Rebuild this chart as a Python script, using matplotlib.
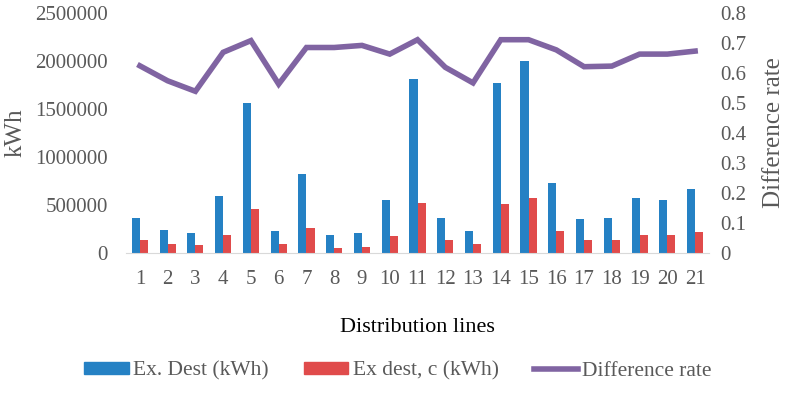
import matplotlib
matplotlib.use("Agg")
import matplotlib.pyplot as plt
import numpy as np
from matplotlib.lines import Line2D
from matplotlib.patches import Patch

plt.rcParams['font.family'] = ['Liberation Serif', 'DejaVu Serif']

lines = [str(i) for i in range(1, 22)]
ex_dest = [365000, 240000, 204000, 590000, 1558000, 225000, 823000, 190000, 212000, 555000,
           1816000, 368000, 229000, 1771000, 2003000, 729000, 354000, 365000, 576000, 552000, 670000]
ex_dest_c = [135000, 97000, 87000, 190000, 462000, 97000, 260000, 52000, 63000, 180000,
             520000, 135000, 97000, 506000, 576000, 225000, 131000, 131000, 190000, 190000, 215000]
diff_rate = [0.624, 0.574, 0.539, 0.669, 0.708, 0.563, 0.685, 0.685, 0.692, 0.663,
             0.711, 0.619, 0.567, 0.711, 0.711, 0.677, 0.621, 0.623, 0.663, 0.663, 0.673]

c_blue = '#2581C4'
c_red = '#E04B4B'
c_purple = '#8064A2'
c_gray = '#595959'

fig = plt.figure(figsize=(7.87, 3.94), dpi=100)
ax = fig.add_axes([126/787, 141/394, (709-126)/787, 240/394])
x = np.arange(1, 22)
w = 0.29
ax.bar(x - w/2, ex_dest, width=w, color=c_blue, zorder=2)
ax.bar(x + w/2, ex_dest_c, width=w, color=c_red, zorder=2)
ax.set_xlim(0.5, 21.5)
ax.set_ylim(0, 2500000)
ax.set_yticks(np.arange(0, 2500001, 500000))
ax.set_yticklabels([str(v) for v in range(0, 2500001, 500000)])
ax.set_xticks(x)
ax.set_xticklabels(lines)
for s in ['top', 'right', 'left']:
    ax.spines[s].set_visible(False)
ax.spines['bottom'].set_color('#D9D9D9')
ax.tick_params(axis='y', length=0, labelsize=15, colors=c_gray, pad=13)
ax.tick_params(axis='x', length=0, labelsize=15, colors=c_gray, pad=12)
ax.set_ylabel('kWh', fontsize=18, color=c_gray, labelpad=6)
ax.set_xlabel('Distribution lines', fontsize=16, color='black', labelpad=21)

ax2 = ax.twinx()
ax2.plot(x, diff_rate, color=c_purple, lw=4, solid_joinstyle='miter', zorder=3)
ax2.set_ylim(0, 0.8)
ax2.set_yticks(np.arange(0, 0.81, 0.1))
ax2.set_yticklabels(['0'] + [f'{v:.1f}' for v in np.arange(0.1, 0.81, 0.1)])
for s in ['top', 'right', 'left', 'bottom']:
    ax2.spines[s].set_visible(False)
ax2.tick_params(length=0, labelsize=15, colors=c_gray, pad=8)
ax2.set_ylabel('Difference rate', fontsize=18, color=c_gray, labelpad=12)

handles = [Patch(color=c_blue), Patch(color=c_red), Line2D([0], [0], color=c_purple, lw=4)]
labels = ['Ex. Dest (kWh)', 'Ex dest, c (kWh)', 'Difference rate']
fig.legend(handles, labels, loc='center', bbox_to_anchor=(0.506, 1 - 371/394), ncol=3,
           frameon=False, fontsize=15.5, labelcolor=c_gray, handlelength=2.05,
           handleheight=0.45, handletextpad=0.2, columnspacing=1.65)

fig.savefig('out.png', dpi=100)
